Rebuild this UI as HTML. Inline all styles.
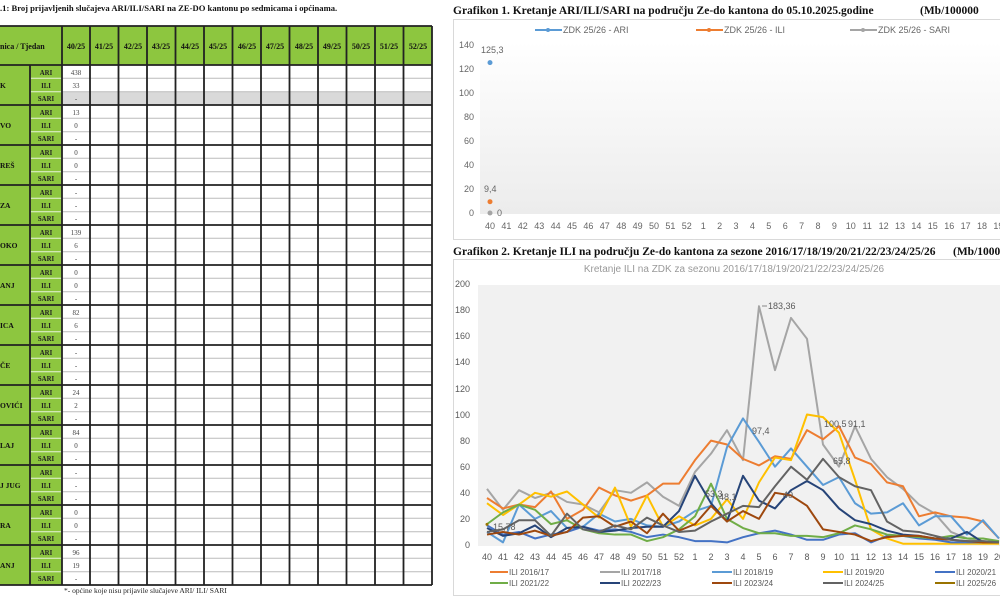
<!DOCTYPE html>
<html><head><meta charset="utf-8"><style>
html,body{margin:0;padding:0;background:#fff;width:1000px;height:600px;overflow:hidden}
svg{display:block}
.s{font-family:"Liberation Serif",serif}
.a{font-family:"Liberation Sans",sans-serif}
</style></head><body>
<svg width="1000" height="600" viewBox="0 0 1000 600" xmlns="http://www.w3.org/2000/svg">
<text class="s" x="0" y="11" font-size="8.6" font-weight="bold" fill="#111">.1: Broj prijavljenih slučajeva ARI/ILI/SARI na ZE-DO kantonu po sedmicama i općinama.</text>
<rect x="0" y="26" width="432" height="39" fill="#8dc63f"/>
<rect x="0" y="65" width="62" height="520" fill="#8dc63f"/>
<rect x="62" y="91.7" width="370" height="13.3" fill="#d9d9d9"/>
<g stroke="#bbb" stroke-width="1">
<path d="M62 78.3H432M62 91.7H432M62 118.3H432M62 131.7H432M62 158.3H432M62 171.7H432M62 198.3H432M62 211.7H432M62 238.3H432M62 251.7H432M62 278.3H432M62 291.7H432M62 318.3H432M62 331.7H432M62 358.3H432M62 371.7H432M62 398.3H432M62 411.7H432M62 438.3H432M62 451.7H432M62 478.3H432M62 491.7H432M62 518.3H432M62 531.7H432M62 558.3H432M62 571.7H432"/>
<path d="M30 78.3H62M30 91.7H62M30 118.3H62M30 131.7H62M30 158.3H62M30 171.7H62M30 198.3H62M30 211.7H62M30 238.3H62M30 251.7H62M30 278.3H62M30 291.7H62M30 318.3H62M30 331.7H62M30 358.3H62M30 371.7H62M30 398.3H62M30 411.7H62M30 438.3H62M30 451.7H62M30 478.3H62M30 491.7H62M30 518.3H62M30 531.7H62M30 558.3H62M30 571.7H62" stroke="#e8f3d8"/>
</g>
<g stroke="#222" stroke-width="1.8">
<path d="M0 26H432M0 65H432M0 105H432M0 145H432M0 185H432M0 225H432M0 265H432M0 305H432M0 345H432M0 385H432M0 425H432M0 465H432M0 505H432M0 545H432M0 585H432"/>
<path d="M30 65V585M62 26V585M90 26V585M118.5 26V585M147 26V585M175.5 26V585M204 26V585M232.5 26V585M261 26V585M289.5 26V585M318 26V585M346.5 26V585M375 26V585M403.5 26V585M432 26V585"/>
</g>
<g class="s" font-size="8" font-weight="bold" fill="#111">
<text x="0" y="49">nica  / Tjedan</text>
<g text-anchor="middle"><text x="76" y="49">40/25</text><text x="104" y="49">41/25</text><text x="133" y="49">42/25</text><text x="161" y="49">43/25</text><text x="190" y="49">44/25</text><text x="218" y="49">45/25</text><text x="247" y="49">46/25</text><text x="275" y="49">47/25</text><text x="304" y="49">48/25</text><text x="332" y="49">49/25</text><text x="361" y="49">50/25</text><text x="389" y="49">51/25</text><text x="418" y="49">52/25</text></g>
<g font-size="7.5"><text x="0" y="88">K</text><text x="0" y="128">VO</text><text x="0" y="168">REŠ</text><text x="0" y="208">ZA</text><text x="0" y="248">OKO</text><text x="0" y="288">ANJ</text><text x="0" y="328">ICA</text><text x="0" y="368">ČE</text><text x="0" y="408">OVIĆI</text><text x="0" y="448">LAJ</text><text x="0" y="488">J JUG</text><text x="0" y="528">RA</text><text x="0" y="568">ANJ</text></g>
</g>
<g class="s" font-size="6.8" font-weight="bold" fill="#222" text-anchor="middle">
<text x="46" y="75">ARI</text><text x="46" y="88">ILI</text><text x="46" y="101">SARI</text>
<text x="46" y="115">ARI</text><text x="46" y="128">ILI</text><text x="46" y="141">SARI</text>
<text x="46" y="155">ARI</text><text x="46" y="168">ILI</text><text x="46" y="181">SARI</text>
<text x="46" y="195">ARI</text><text x="46" y="208">ILI</text><text x="46" y="221">SARI</text>
<text x="46" y="235">ARI</text><text x="46" y="248">ILI</text><text x="46" y="261">SARI</text>
<text x="46" y="275">ARI</text><text x="46" y="288">ILI</text><text x="46" y="301">SARI</text>
<text x="46" y="315">ARI</text><text x="46" y="328">ILI</text><text x="46" y="341">SARI</text>
<text x="46" y="355">ARI</text><text x="46" y="368">ILI</text><text x="46" y="381">SARI</text>
<text x="46" y="395">ARI</text><text x="46" y="408">ILI</text><text x="46" y="421">SARI</text>
<text x="46" y="435">ARI</text><text x="46" y="448">ILI</text><text x="46" y="461">SARI</text>
<text x="46" y="475">ARI</text><text x="46" y="488">ILI</text><text x="46" y="501">SARI</text>
<text x="46" y="515">ARI</text><text x="46" y="528">ILI</text><text x="46" y="541">SARI</text>
<text x="46" y="555">ARI</text><text x="46" y="568">ILI</text><text x="46" y="581">SARI</text>
</g>
<g class="s" font-size="7" fill="#444" text-anchor="middle">
<text x="76" y="75">438</text><text x="76" y="88">33</text><text x="76" y="101">-</text>
<text x="76" y="115">13</text><text x="76" y="128">0</text><text x="76" y="141">-</text>
<text x="76" y="155">0</text><text x="76" y="168">0</text><text x="76" y="181">-</text>
<text x="76" y="195">-</text><text x="76" y="208">-</text><text x="76" y="221">-</text>
<text x="76" y="235">139</text><text x="76" y="248">6</text><text x="76" y="261">-</text>
<text x="76" y="275">0</text><text x="76" y="288">0</text><text x="76" y="301">-</text>
<text x="76" y="315">82</text><text x="76" y="328">6</text><text x="76" y="341">-</text>
<text x="76" y="355">-</text><text x="76" y="368">-</text><text x="76" y="381">-</text>
<text x="76" y="395">24</text><text x="76" y="408">2</text><text x="76" y="421">-</text>
<text x="76" y="435">84</text><text x="76" y="448">0</text><text x="76" y="461">-</text>
<text x="76" y="475">-</text><text x="76" y="488">-</text><text x="76" y="501">-</text>
<text x="76" y="515">0</text><text x="76" y="528">0</text><text x="76" y="541">-</text>
<text x="76" y="555">96</text><text x="76" y="568">19</text><text x="76" y="581">-</text>
</g>
<text class="s" x="64" y="593" font-size="7.5" fill="#222">*- općine koje nisu prijavile slučajeve ARI/ ILI/ SARI</text>

<text class="s" x="453" y="14" font-size="11.5" font-weight="bold" fill="#111">Grafikon 1. Kretanje ARI/ILI/SARI na području Ze-do kantona do 05.10.2025.godine</text>
<text class="s" x="920" y="14" font-size="11.5" font-weight="bold" fill="#111">(Mb/100000</text>
<rect x="453.5" y="19.5" width="560" height="220" fill="#fff" stroke="#d9d9d9"/>
<defs><linearGradient id="g1" x1="0" y1="0" x2="0" y2="1"><stop offset="0" stop-color="#fff"/><stop offset="1" stop-color="#ececec"/></linearGradient></defs>
<rect x="480" y="42" width="520" height="172" fill="url(#g1)"/>
<g class="a" font-size="9" fill="#666">
<line x1="535" y1="30" x2="562" y2="30" stroke="#5b9bd5" stroke-width="2"/><circle cx="548" cy="30" r="2" fill="#5b9bd5"/><text x="563" y="33">ZDK 25/26 - ARI</text>
<line x1="696" y1="30" x2="723" y2="30" stroke="#ed7d31" stroke-width="2"/><circle cx="709" cy="30" r="2" fill="#ed7d31"/><text x="724" y="33">ZDK 25/26 - ILI</text>
<line x1="850" y1="30" x2="877" y2="30" stroke="#a5a5a5" stroke-width="2"/><circle cx="863" cy="30" r="2" fill="#a5a5a5"/><text x="878" y="33">ZDK 25/26 - SARI</text>
<g text-anchor="end"><text x="474" y="48">140</text><text x="474" y="72">120</text><text x="474" y="96">100</text><text x="474" y="120">80</text><text x="474" y="144">60</text><text x="474" y="168">40</text><text x="474" y="192">20</text><text x="474" y="216">0</text></g>
<g text-anchor="middle"><text x="490.0" y="229">40</text><text x="506.4" y="229">41</text><text x="522.8" y="229">42</text><text x="539.2" y="229">43</text><text x="555.6" y="229">44</text><text x="572.0" y="229">45</text><text x="588.4" y="229">46</text><text x="604.8" y="229">47</text><text x="621.2" y="229">48</text><text x="637.6" y="229">49</text><text x="654.0" y="229">50</text><text x="670.4" y="229">51</text><text x="686.8" y="229">52</text><text x="703.2" y="229">1</text><text x="719.6" y="229">2</text><text x="736.0" y="229">3</text><text x="752.4" y="229">4</text><text x="768.8" y="229">5</text><text x="785.2" y="229">6</text><text x="801.6" y="229">7</text><text x="818.0" y="229">8</text><text x="834.4" y="229">9</text><text x="850.8" y="229">10</text><text x="867.2" y="229">11</text><text x="883.6" y="229">12</text><text x="900.0" y="229">13</text><text x="916.4" y="229">14</text><text x="932.8" y="229">15</text><text x="949.2" y="229">16</text><text x="965.6" y="229">17</text><text x="982.0" y="229">18</text><text x="998.4" y="229">19</text></g>
<circle cx="490" cy="62.6" r="2.5" fill="#5b9bd5"/><text x="481" y="53">125,3</text>
<circle cx="490" cy="201.7" r="2.5" fill="#ed7d31"/><text x="484" y="192">9,4</text>
<circle cx="490" cy="213" r="2.5" fill="#a5a5a5"/><text x="497" y="216">0</text>
</g>

<text class="s" x="453" y="255" font-size="11.5" font-weight="bold" fill="#111">Grafikon 2. Kretanje ILI na području Ze-do kantona za sezone 2016/17/18/19/20/21/22/23/24/25/26</text>
<text class="s" x="953" y="255" font-size="11.5" font-weight="bold" fill="#111">(Mb/10000</text>
<rect x="453.5" y="259.5" width="560" height="336" fill="#fff" stroke="#d9d9d9"/>
<text class="a" x="734" y="272" font-size="10" fill="#999" text-anchor="middle">Kretanje ILI na ZDK za sezonu 2016/17/18/19/20/21/22/23/24/25/26</text>
<rect x="478" y="285" width="522" height="261" fill="#f1f1f1"/>
<g class="a" font-size="9" fill="#595959">
<g text-anchor="end"><text x="470" y="548">0</text><text x="470" y="522">20</text><text x="470" y="496">40</text><text x="470" y="470">60</text><text x="470" y="444">80</text><text x="470" y="418">100</text><text x="470" y="392">120</text><text x="470" y="365">140</text><text x="470" y="339">160</text><text x="470" y="313">180</text><text x="470" y="287">200</text></g>
<g text-anchor="middle"><text x="487" y="560">40</text><text x="503" y="560">41</text><text x="519" y="560">42</text><text x="535" y="560">43</text><text x="551" y="560">44</text><text x="567" y="560">45</text><text x="583" y="560">46</text><text x="599" y="560">47</text><text x="615" y="560">48</text><text x="631" y="560">49</text><text x="647" y="560">50</text><text x="663" y="560">51</text><text x="679" y="560">52</text><text x="695" y="560">1</text><text x="711" y="560">2</text><text x="727" y="560">3</text><text x="743" y="560">4</text><text x="759" y="560">5</text><text x="775" y="560">6</text><text x="791" y="560">7</text><text x="807" y="560">8</text><text x="823" y="560">9</text><text x="839" y="560">10</text><text x="855" y="560">11</text><text x="871" y="560">12</text><text x="887" y="560">13</text><text x="903" y="560">14</text><text x="919" y="560">15</text><text x="935" y="560">16</text><text x="951" y="560">17</text><text x="967" y="560">18</text><text x="983" y="560">19</text><text x="999" y="560">20</text></g>
</g>
<g transform="translate(487,545) scale(16,-1.305)" fill="none" stroke-width="2" stroke-linejoin="round">
<polyline vector-effect="non-scaling-stroke" stroke="#a5a5a5" points="0,43 1,27 2,42 3,36 4,40 5,33 6,31 7,25 8,42 9,40 10,48 11,37 12,30 13,56 14,70 15,88 16,65 17,183 18,134 19,174 20,158 21,77 22,60 23,91 24,66 25,52 26,43 27,31 28,24 29,10 30,5 31,3 32,2"/>
<polyline vector-effect="non-scaling-stroke" stroke="#ed7d31" points="0,36 1,28 2,31 3,29 4,41 5,20 6,27 7,44 8,38 9,34 10,38 11,47 12,47 13,65 14,80 15,77 16,66 17,61 18,68 19,66 20,88 21,81 22,91 23,67 24,62 25,48 26,45 27,22 28,25 29,22 30,21 31,18 32,5"/>
<polyline vector-effect="non-scaling-stroke" stroke="#5b9bd5" points="0,10 1,2 2,31 3,20 4,26 5,13 6,14 7,24 8,18 9,20 10,15 11,14 12,18 13,26 14,30 15,75 16,97 17,79 18,60 19,74 20,60 21,46 22,52 23,32 24,24 25,25 26,32 27,15 28,22 29,22 30,8 31,19 32,5"/>
<polyline vector-effect="non-scaling-stroke" stroke="#ffc000" points="0,32 1,23 2,31 3,40 4,37 5,41 6,31 7,21 8,44 9,14 10,38 11,14 12,22 13,15 14,20 15,35 16,20 17,48 18,67 19,65 20,100 21,98 22,86 23,50 24,12 25,5 26,1 27,1 28,1 29,1 30,1 31,1 32,1"/>
<polyline vector-effect="non-scaling-stroke" stroke="#4472c4" points="0,15 1,8 2,10 3,5 4,8 5,10 6,14 7,11 8,12 9,10 10,6 11,8 12,6 13,3 14,3 15,2 16,6 17,9 18,11 19,8 20,4 21,4 22,8 23,9 24,2 25,7 26,7 27,5 28,4 29,2 30,2 31,2 32,2"/>
<polyline vector-effect="non-scaling-stroke" stroke="#70ad47" points="0,16 1,25 2,31 3,27 4,16 5,19 6,12 7,9 8,8 9,8 10,3 11,6 12,12 13,22 14,47 15,20 16,13 17,9 18,9 19,7 20,7 21,6 22,9 23,15 24,12 25,8 26,7 27,6 28,5 29,7 30,5 31,5 32,3"/>
<polyline vector-effect="non-scaling-stroke" stroke="#264478" points="0,13 1,7 2,9 3,15 4,6 5,13 6,14 7,10 8,11 9,13 10,14 11,14 12,26 13,53 14,32 15,18 16,53 17,34 18,28 19,42 20,49 21,42 22,28 23,19 24,16 25,11 26,8 27,7 28,5 29,5 30,10 31,2 32,2"/>
<polyline vector-effect="non-scaling-stroke" stroke="#9e480e" points="0,8 1,10 2,8 3,11 4,7 5,10 6,21 7,22 8,14 9,18 10,9 11,24 12,11 13,16 14,30 15,18 16,26 17,20 18,40 19,38 20,30 21,12 22,10 23,8 24,3 25,6 26,7 27,7 28,5 29,4 30,3 31,2 32,2"/>
<polyline vector-effect="non-scaling-stroke" stroke="#636363" points="0,10 1,12 2,19 3,19 4,7 5,24 6,12 7,10 8,15 9,12 10,21 11,15 12,10 13,11 14,18 15,24 16,30 17,29 18,45 19,60 20,50 21,66 22,52 23,45 24,42 25,18 26,11 27,10 28,7 29,4 30,3 31,3 32,2"/>
</g>
<circle cx="487" cy="524.4" r="1.5" fill="#997300"/>
<g class="a" font-size="9" fill="#595959">
<line x1="762" y1="306" x2="767" y2="306" stroke="#888"/><text x="768" y="309">183,36</text>
<text x="752" y="434">97,4</text>
<text x="824" y="427">100,5</text>
<text x="848" y="427">91,1</text>
<text x="833" y="464">65,8</text>
<text x="705" y="497">53,3</text>
<text x="719" y="500">48,1</text>
<text x="783" y="498">40</text>
<text x="493" y="530">15,78</text>
</g>
<g class="a" font-size="8" fill="#595959" stroke-width="2">
<line x1="490" y1="572" x2="508" y2="572" stroke="#ed7d31"/><text x="509" y="575">ILI 2016/17</text>
<line x1="600" y1="572" x2="620" y2="572" stroke="#a5a5a5"/><text x="621" y="575">ILI 2017/18</text>
<line x1="712" y1="572" x2="732" y2="572" stroke="#5b9bd5"/><text x="733" y="575">ILI 2018/19</text>
<line x1="823" y1="572" x2="843" y2="572" stroke="#ffc000"/><text x="844" y="575">ILI 2019/20</text>
<line x1="935" y1="572" x2="955" y2="572" stroke="#4472c4"/><text x="956" y="575">ILI 2020/21</text>
<line x1="490" y1="583" x2="508" y2="583" stroke="#70ad47"/><text x="509" y="586">ILI 2021/22</text>
<line x1="600" y1="583" x2="620" y2="583" stroke="#264478"/><text x="621" y="586">ILI 2022/23</text>
<line x1="712" y1="583" x2="732" y2="583" stroke="#9e480e"/><text x="733" y="586">ILI 2023/24</text>
<line x1="823" y1="583" x2="843" y2="583" stroke="#636363"/><text x="844" y="586">ILI 2024/25</text>
<line x1="935" y1="583" x2="955" y2="583" stroke="#997300"/><text x="956" y="586">ILI 2025/26</text>
</g>
</svg>
</body></html>
